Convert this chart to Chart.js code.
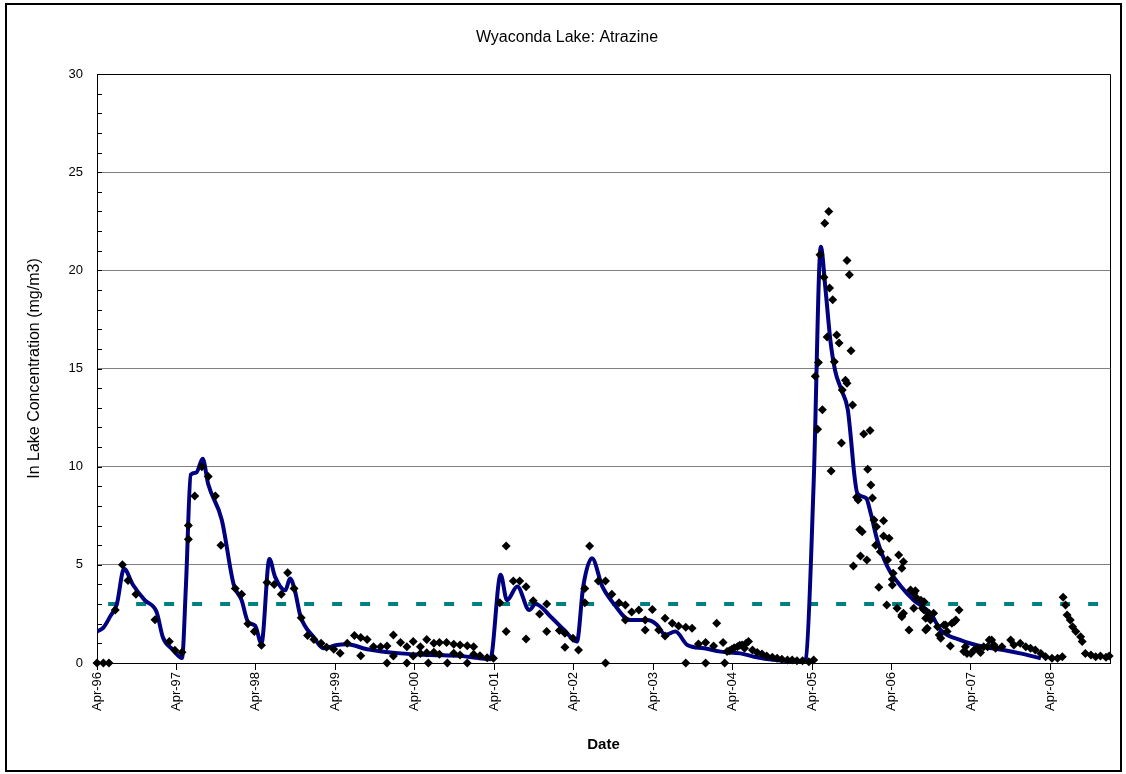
<!DOCTYPE html>
<html>
<head>
<meta charset="utf-8">
<title>Wyaconda Lake: Atrazine</title>
<script src="https://cdn.jsdelivr.net/npm/chart.js@4.4.1/dist/chart.umd.min.js"></script>
<style>
  body { margin: 0; background: #fff; }
  #wrap { position: relative; width: 1126px; height: 774px; }
  #frame { position: absolute; left: 5px; top: 3px; width: 1113px; height: 765px; border: 2px solid #000; pointer-events: none; }
</style>
</head>
<body>
<div id="wrap">
  <canvas id="atrazineChart" width="1126" height="774"></canvas>
  <div id="frame"></div>
</div>
<script>
// sample dates are decimal years (Apr-96 = 1996.25)
const sampleDates = [
  1996.25, 1996.33, 1996.40, 1996.48, 1996.57, 1996.64, 1996.74, 1996.98, 1997.16, 1997.23,
  1997.32, 1997.40, 1997.40, 1997.48, 1997.57, 1997.65, 1997.74, 1997.81, 1997.99, 1998.07,
  1998.15, 1998.23, 1998.32, 1998.39, 1998.48, 1998.57, 1998.65, 1998.73, 1998.82, 1998.90,
  1998.98, 1999.07, 1999.14, 1999.23, 1999.31, 1999.40, 1999.49, 1999.57, 1999.57, 1999.65,
  1999.73, 1999.82, 1999.90, 1999.90, 1999.98, 1999.98, 2000.07, 2000.15, 2000.15, 2000.23,
  2000.23, 2000.32, 2000.32, 2000.40, 2000.40, 2000.42, 2000.49, 2000.49, 2000.56, 2000.56,
  2000.65, 2000.66, 2000.74, 2000.74, 2000.82, 2000.82, 2000.91, 2000.91, 2000.99, 2000.99,
  2001.07, 2001.16, 2001.24,
  2001.32, 2001.40, 2001.40, 2001.49, 2001.57, 2001.65, 2001.65, 2001.74, 2001.82, 2001.91,
  2001.91, 2002.07, 2002.14, 2002.14, 2002.24, 2002.31, 2002.39, 2002.39, 2002.45,
  2002.56, 2002.65, 2002.65, 2002.73, 2002.82, 2002.90, 2002.90, 2002.98, 2003.07, 2003.15,
  2003.15, 2003.24, 2003.32, 2003.40, 2003.40, 2003.49, 2003.57, 2003.66, 2003.66, 2003.74,
  2003.82, 2003.91, 2003.91, 2004.01, 2004.05, 2004.13, 2004.15, 2004.18, 2004.21, 2004.24,
  2004.27, 2004.31, 2004.34, 2004.37, 2004.40, 2004.42, 2004.45, 2004.50, 2004.56, 2004.62,
  2004.68, 2004.75, 2004.81, 2004.87, 2004.94, 2005.00, 2005.06, 2005.13, 2005.21, 2005.27,
  2005.29, 2005.32, 2005.33, 2005.35, 2005.38, 2005.40, 2005.41, 2005.44, 2005.46, 2005.47,
  2005.49, 2005.51, 2005.53, 2005.56, 2005.59, 2005.62, 2005.63, 2005.67, 2005.69, 2005.69,
  2005.72, 2005.74, 2005.76, 2005.77, 2005.81, 2005.83, 2005.85, 2005.86, 2005.88, 2005.90,
  2005.94, 2005.95, 2005.98, 2005.99, 2006.01, 2006.03, 2006.05, 2006.06, 2006.09, 2006.11,
  2006.15, 2006.15, 2006.19, 2006.20, 2006.22, 2006.26, 2006.26, 2006.27, 2006.32, 2006.34,
  2006.38, 2006.38, 2006.38, 2006.40, 2006.40, 2006.47, 2006.49, 2006.53, 2006.53, 2006.55,
  2006.57, 2006.62, 2006.64, 2006.66, 2006.66, 2006.68, 2006.68, 2006.70, 2006.72, 2006.74,
  2006.78, 2006.83, 2006.85, 2006.87, 2006.91, 2006.93, 2006.95, 2006.99, 2007.01, 2007.04,
  2007.06, 2007.10, 2007.16, 2007.18, 2007.20, 2007.25, 2007.29, 2007.33, 2007.37, 2007.41,
  2007.46, 2007.48, 2007.51, 2007.54, 2007.56, 2007.64, 2007.75, 2007.79, 2007.87, 2007.94,
  2008.00, 2008.06, 2008.13, 2008.19, 2008.27, 2008.34, 2008.40, 2008.41, 2008.44, 2008.46,
  2008.50, 2008.53, 2008.57, 2008.63, 2008.65, 2008.69, 2008.76, 2008.82, 2008.88, 2008.95,
  2008.99
];
const sampleValues = [
  0, 0, 0, 2.7, 5.0, 4.2, 3.5, 2.2, 1.1, 0.65,
  0.55, 6.3, 7.0, 8.5, 10.0, 9.5, 8.5, 6.0, 3.8, 3.5,
  2.0, 1.6, 0.9, 4.1, 4.0, 3.5, 4.6, 3.8, 2.3, 1.4,
  1.2, 1.0, 0.8, 0.7, 0.5, 1.0, 1.4, 1.3, 0.37, 1.2,
  0.83, 0.83, 0.87, 0, 1.43, 0.36, 1.04, 0.83, 0, 1.09,
  0.36, 0.83, 0.49, 1.2, 0.52, 0, 1.0, 0.55, 1.05, 0.44,
  1.05, 0, 0.95, 0.5, 0.92, 0.41, 0.88, 0, 0.83, 0.44,
  0.37, 0.27, 0.24,
  3.07, 5.96, 1.6, 4.18, 4.18, 3.89, 1.22, 3.17, 2.5, 3.0,
  1.6, 1.65, 1.51, 0.8, 1.26, 0.66, 3.07, 3.8, 5.96,
  4.18, 4.18, 0, 3.5, 3.07, 2.95, 2.19, 2.6, 2.7, 2.19,
  1.68, 2.73, 1.68, 2.28, 1.38, 2.02, 1.88, 1.82, 0, 1.77,
  0.97, 1.04, 0, 0.87, 2.02, 1.04, 0, 0.58, 0.62, 0.7,
  0.78, 0.83, 0.9, 0.92, 0.75, 1.0, 1.09, 0.66, 0.53, 0.46,
  0.36, 0.29, 0.24, 0.19, 0.15, 0.15, 0.12, 0.12, 0.07, 0.15,
  14.6, 11.9, 15.3, 20.8, 12.9, 19.65, 22.4, 16.6, 23.0, 19.1,
  9.78, 18.5, 15.35, 16.7, 16.3, 11.2, 13.9, 14.4, 20.5, 14.25,
  19.77, 15.9, 13.14, 4.94, 8.44, 8.3, 6.8, 5.45, 6.69, 11.67,
  5.25, 9.87, 11.84, 9.07, 8.4, 7.28, 6.0, 6.94, 3.86, 5.67,
  7.25, 6.47, 2.95, 5.25, 6.35, 4.26, 3.97, 4.57, 2.79, 5.5,
  4.82, 2.45, 2.36, 5.16, 2.53, 1.68, 3.72, 3.55, 2.79, 3.68,
  3.3, 3.2, 2.79, 2.7, 3.12, 2.28, 1.68, 1.77, 2.53, 2.19,
  2.53, 1.85, 1.43, 1.26, 1.94, 1.94, 1.6, 0.87, 2.02, 2.1,
  2.19, 2.7, 0.58, 0.83, 0.49, 0.49, 0.66, 0.75, 0.53, 0.83,
  0.83, 1.17, 1.17, 0.92, 0.75, 0.83, 1.17, 0.92, 1.0, 0.83,
  0.75, 0.66, 0.49, 0.32, 0.24, 0.24, 0.32, 3.35, 2.95, 2.45,
  2.19, 1.85, 1.6, 1.34, 1.09, 0.49, 0.41, 0.32, 0.36, 0.29,
  0.36
];

// smoothed model curve
const fitDates = [
  1996.25, 1996.33, 1996.42, 1996.50, 1996.59, 1996.70, 1996.85, 1997.00, 1997.08, 1997.20,
  1997.32, 1997.37, 1997.43, 1997.50, 1997.58, 1997.65, 1997.82, 1997.97, 1998.07, 1998.15,
  1998.24, 1998.32, 1998.42, 1998.49, 1998.62, 1998.68, 1998.74, 1998.81, 1998.98, 1999.10,
  1999.27, 1999.40, 1999.65, 2000.07, 2000.45, 2000.85, 2001.05, 2001.20, 2001.33, 2001.41,
  2001.54, 2001.69, 2001.77, 2001.96, 2002.13, 2002.29, 2002.37, 2002.48, 2002.61, 2002.75,
  2002.96, 2003.17, 2003.30, 2003.40, 2003.53, 2003.68, 2003.89, 2004.10, 2004.35, 2004.52,
  2004.79, 2005.10, 2005.17, 2005.27, 2005.36, 2005.42, 2005.48, 2005.54, 2005.62, 2005.70,
  2005.74, 2005.78, 2005.82, 2005.93, 2005.99, 2006.07, 2006.20, 2006.37, 2006.53, 2006.74,
  2006.87, 2007.12, 2007.41, 2007.66, 2007.87, 2008.13
];
const fitValues = [
  1.6, 1.8, 2.4, 3.0, 4.8, 4.0, 3.2, 2.6, 1.3, 0.7,
  0.25, 4.0, 9.6, 9.7, 10.4, 9.1, 7.3, 4.0, 3.2, 2.1,
  1.9, 1.0, 5.3, 4.4, 3.7, 4.3, 3.7, 2.4, 1.3, 0.75,
  0.92, 0.95, 0.7, 0.49, 0.41, 0.35, 0.25, 0.19, 4.5, 3.2,
  3.9, 2.7, 3.0, 2.36, 1.68, 1.09, 3.9, 5.33, 3.9, 3.04,
  2.19, 2.19, 1.94, 1.43, 1.6, 0.92, 0.75, 0.58, 0.49, 0.32,
  0.15, 0.07, 0.2, 9.15, 21.2, 19.0, 16.45, 14.9, 13.9, 12.9,
  11.4, 9.66, 8.64, 8.4, 7.6, 6.27, 4.9, 3.9, 3.2, 2.53,
  1.68, 1.17, 0.83, 0.66, 0.49, 0.24
];

// criterion line
const criterionDates = [1996.39, 2009.0];
const criterionValues = [3, 3];

const tickDates = [1996.25, 1997.25, 1998.25, 1999.25, 2000.25, 2001.25, 2002.25,
  2003.25, 2004.25, 2005.25, 2006.25, 2007.25, 2008.25];
const tickLabels = ["Apr-96", "Apr-97", "Apr-98", "Apr-99", "Apr-00", "Apr-01", "Apr-02",
  "Apr-03", "Apr-04", "Apr-05", "Apr-06", "Apr-07", "Apr-08"];

const FONT = "'Liberation Sans', Arial, sans-serif";

const toPoints = (xs, ys) => xs.map((x, i) => ({ x: x, y: ys[i] }));

// black top/right edge of the plot + small inside ticks on the y axis
const plotFrame = {
    id: "plotFrame",
    beforeDatasetsDraw(chart) {
        const { ctx, chartArea: a, scales: { y } } = chart;
        ctx.save();
        ctx.strokeStyle = "#000";
        ctx.lineWidth = 1;
        ctx.beginPath();
        ctx.moveTo(a.left, Math.round(a.top) + 0.5);
        ctx.lineTo(Math.round(a.right) + 0.5, Math.round(a.top) + 0.5);
        ctx.lineTo(Math.round(a.right) + 0.5, a.bottom);
        for (let v = y.min + 1; v < y.max; v++) {
            const py = Math.round(y.getPixelForValue(v)) + 0.5;
            ctx.moveTo(a.left, py);
            ctx.lineTo(a.left + 5, py);
        }
        ctx.stroke();
        ctx.restore();
    }
};

const ctx = document.getElementById("atrazineChart").getContext("2d");
const atrazineChart = new Chart(ctx, {
    type: "scatter",
    data: {
        datasets: [{
            label: "Measured",
            data: toPoints(sampleDates, sampleValues),
            pointStyle: "rectRot",
            pointRadius: 4.5,
            backgroundColor: "#000",
            borderWidth: 0,
            clip: false
        }, {
            type: "line",
            label: "Model",
            data: toPoints(fitDates, fitValues),
            borderColor: "#000080",
            borderWidth: 4,
            pointRadius: 0,
            cubicInterpolationMode: "monotone",
            fill: false
        }, {
            type: "line",
            label: "Criterion",
            data: toPoints(criterionDates, criterionValues),
            borderColor: "#008080",
            borderWidth: 4,
            borderDash: [10, 18],
            pointRadius: 0,
            fill: false
        }]
    },
    options: {
        responsive: false,
        animation: false,
        layout: { padding: { left: 24, right: 16, top: 0, bottom: 0 } },
        plugins: {
            legend: { display: false },
            tooltip: { enabled: false },
            title: {
                display: true,
                text: "Wyaconda Lake: Atrazine",
                color: "#000",
                font: { family: FONT, size: 16, weight: "normal" },
                padding: { top: 28.4, bottom: 26.4 }
            }
        },
        scales: {
            x: {
                type: "linear",
                min: 1996.25,
                max: 2009.0,
                afterBuildTicks: (scale) => { scale.ticks = tickDates.map(v => ({ value: v })); },
                afterFit: (scale) => { scale.height = 111; },
                ticks: {
                    autoSkip: false,
                    maxRotation: 90,
                    minRotation: 90,
                    padding: 2,
                    color: "#000",
                    font: { family: FONT, size: 13 },
                    callback: (v) => tickLabels[tickDates.indexOf(v)]
                },
                grid: { drawOnChartArea: false, drawTicks: true, tickLength: 7, color: "#000" },
                border: { color: "#000", width: 1 },
                title: {
                    display: true,
                    text: "Date",
                    color: "#000",
                    font: { family: FONT, size: 15, weight: "bold" },
                    padding: { top: 0, bottom: 20 }
                }
            },
            y: {
                min: 0,
                max: 30,
                afterFit: (scale) => { scale.width = 73; },
                ticks: {
                    stepSize: 5,
                    padding: 14,
                    color: "#000",
                    font: { family: FONT, size: 13 }
                },
                grid: {
                    drawTicks: false,
                    color: (c) => c.tick.value === 30 ? "#000" : "#808080"
                },
                border: { color: "#000", width: 1 },
                title: {
                    display: true,
                    text: "In Lake Concentration (mg/m3)",
                    color: "#000",
                    font: { family: FONT, size: 16 },
                    padding: { top: 1.4, bottom: 0 }
                }
            }
        }
    },
    plugins: [plotFrame]
});
</script>
</body>
</html>
